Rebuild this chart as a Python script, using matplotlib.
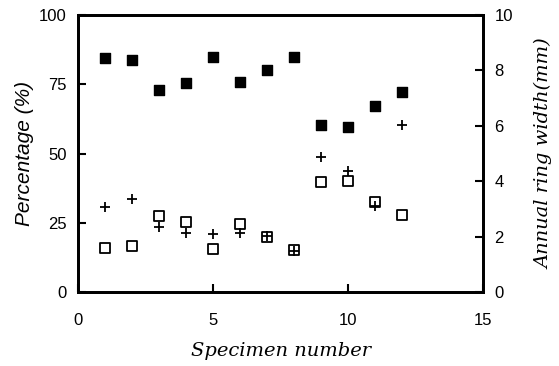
import matplotlib
matplotlib.use("Agg")
import matplotlib.pyplot as plt

specimen = [1, 2, 3, 4, 5, 6, 7, 8, 9, 10, 11, 12]
pct_filled = [84.5, 83.8, 73.0, 75.5, 85.0, 75.8, 80.0, 85.0, 60.2, 59.6, 67.3, 72.3]
pct_open = [16.0, 16.6, 27.5, 25.2, 15.7, 24.5, 19.8, 15.2, 39.8, 40.2, 32.4, 27.8]
ring_width = [3.07, 3.36, 2.36, 2.13, 2.10, 2.13, 2.02, 1.48, 4.88, 4.37, 3.12, 6.03]

plt.rcParams['font.family'] = ['Liberation Sans', 'DejaVu Sans']

fig = plt.figure(figsize=(5.59, 3.66), dpi=100)
ax = fig.add_axes([0.1395, 0.202, 0.725, 0.757])
ax2 = ax.twinx()

ax.scatter(specimen, pct_filled, marker='s', s=48, c='black', zorder=3)
ax.scatter(specimen, pct_open, marker='s', s=42, facecolors='white',
           edgecolors='black', linewidths=1.3, zorder=3)
ax2.scatter(specimen, ring_width, marker='+', s=55, c='black', linewidths=1.3, zorder=4)

ax.set_xlim(0, 15)
ax.set_ylim(0, 100)
ax2.set_ylim(0, 10)
ax.set_xticks([0, 5, 10, 15])
ax.set_yticks([0, 25, 50, 75, 100])
ax2.set_yticks([0, 2, 4, 6, 8, 10])

for a in (ax, ax2):
    for sp in a.spines.values():
        sp.set_linewidth(2)
    a.tick_params(direction='in', length=6, width=1.5, labelsize=12, pad=8)
ax.tick_params(axis='x', top=False, pad=15)

serif = dict(family=['DejaVu Serif'], style='italic', size=14)
ax.set_xlabel("Specimen number", labelpad=10, **serif)
ax.set_ylabel("Percentage (%)", labelpad=4, family=['Liberation Sans'],
              style='italic', size=15)
ax2.set_ylabel("Annual ring width(mm)", labelpad=16, **serif)

fig.savefig("out.png", dpi=100)
